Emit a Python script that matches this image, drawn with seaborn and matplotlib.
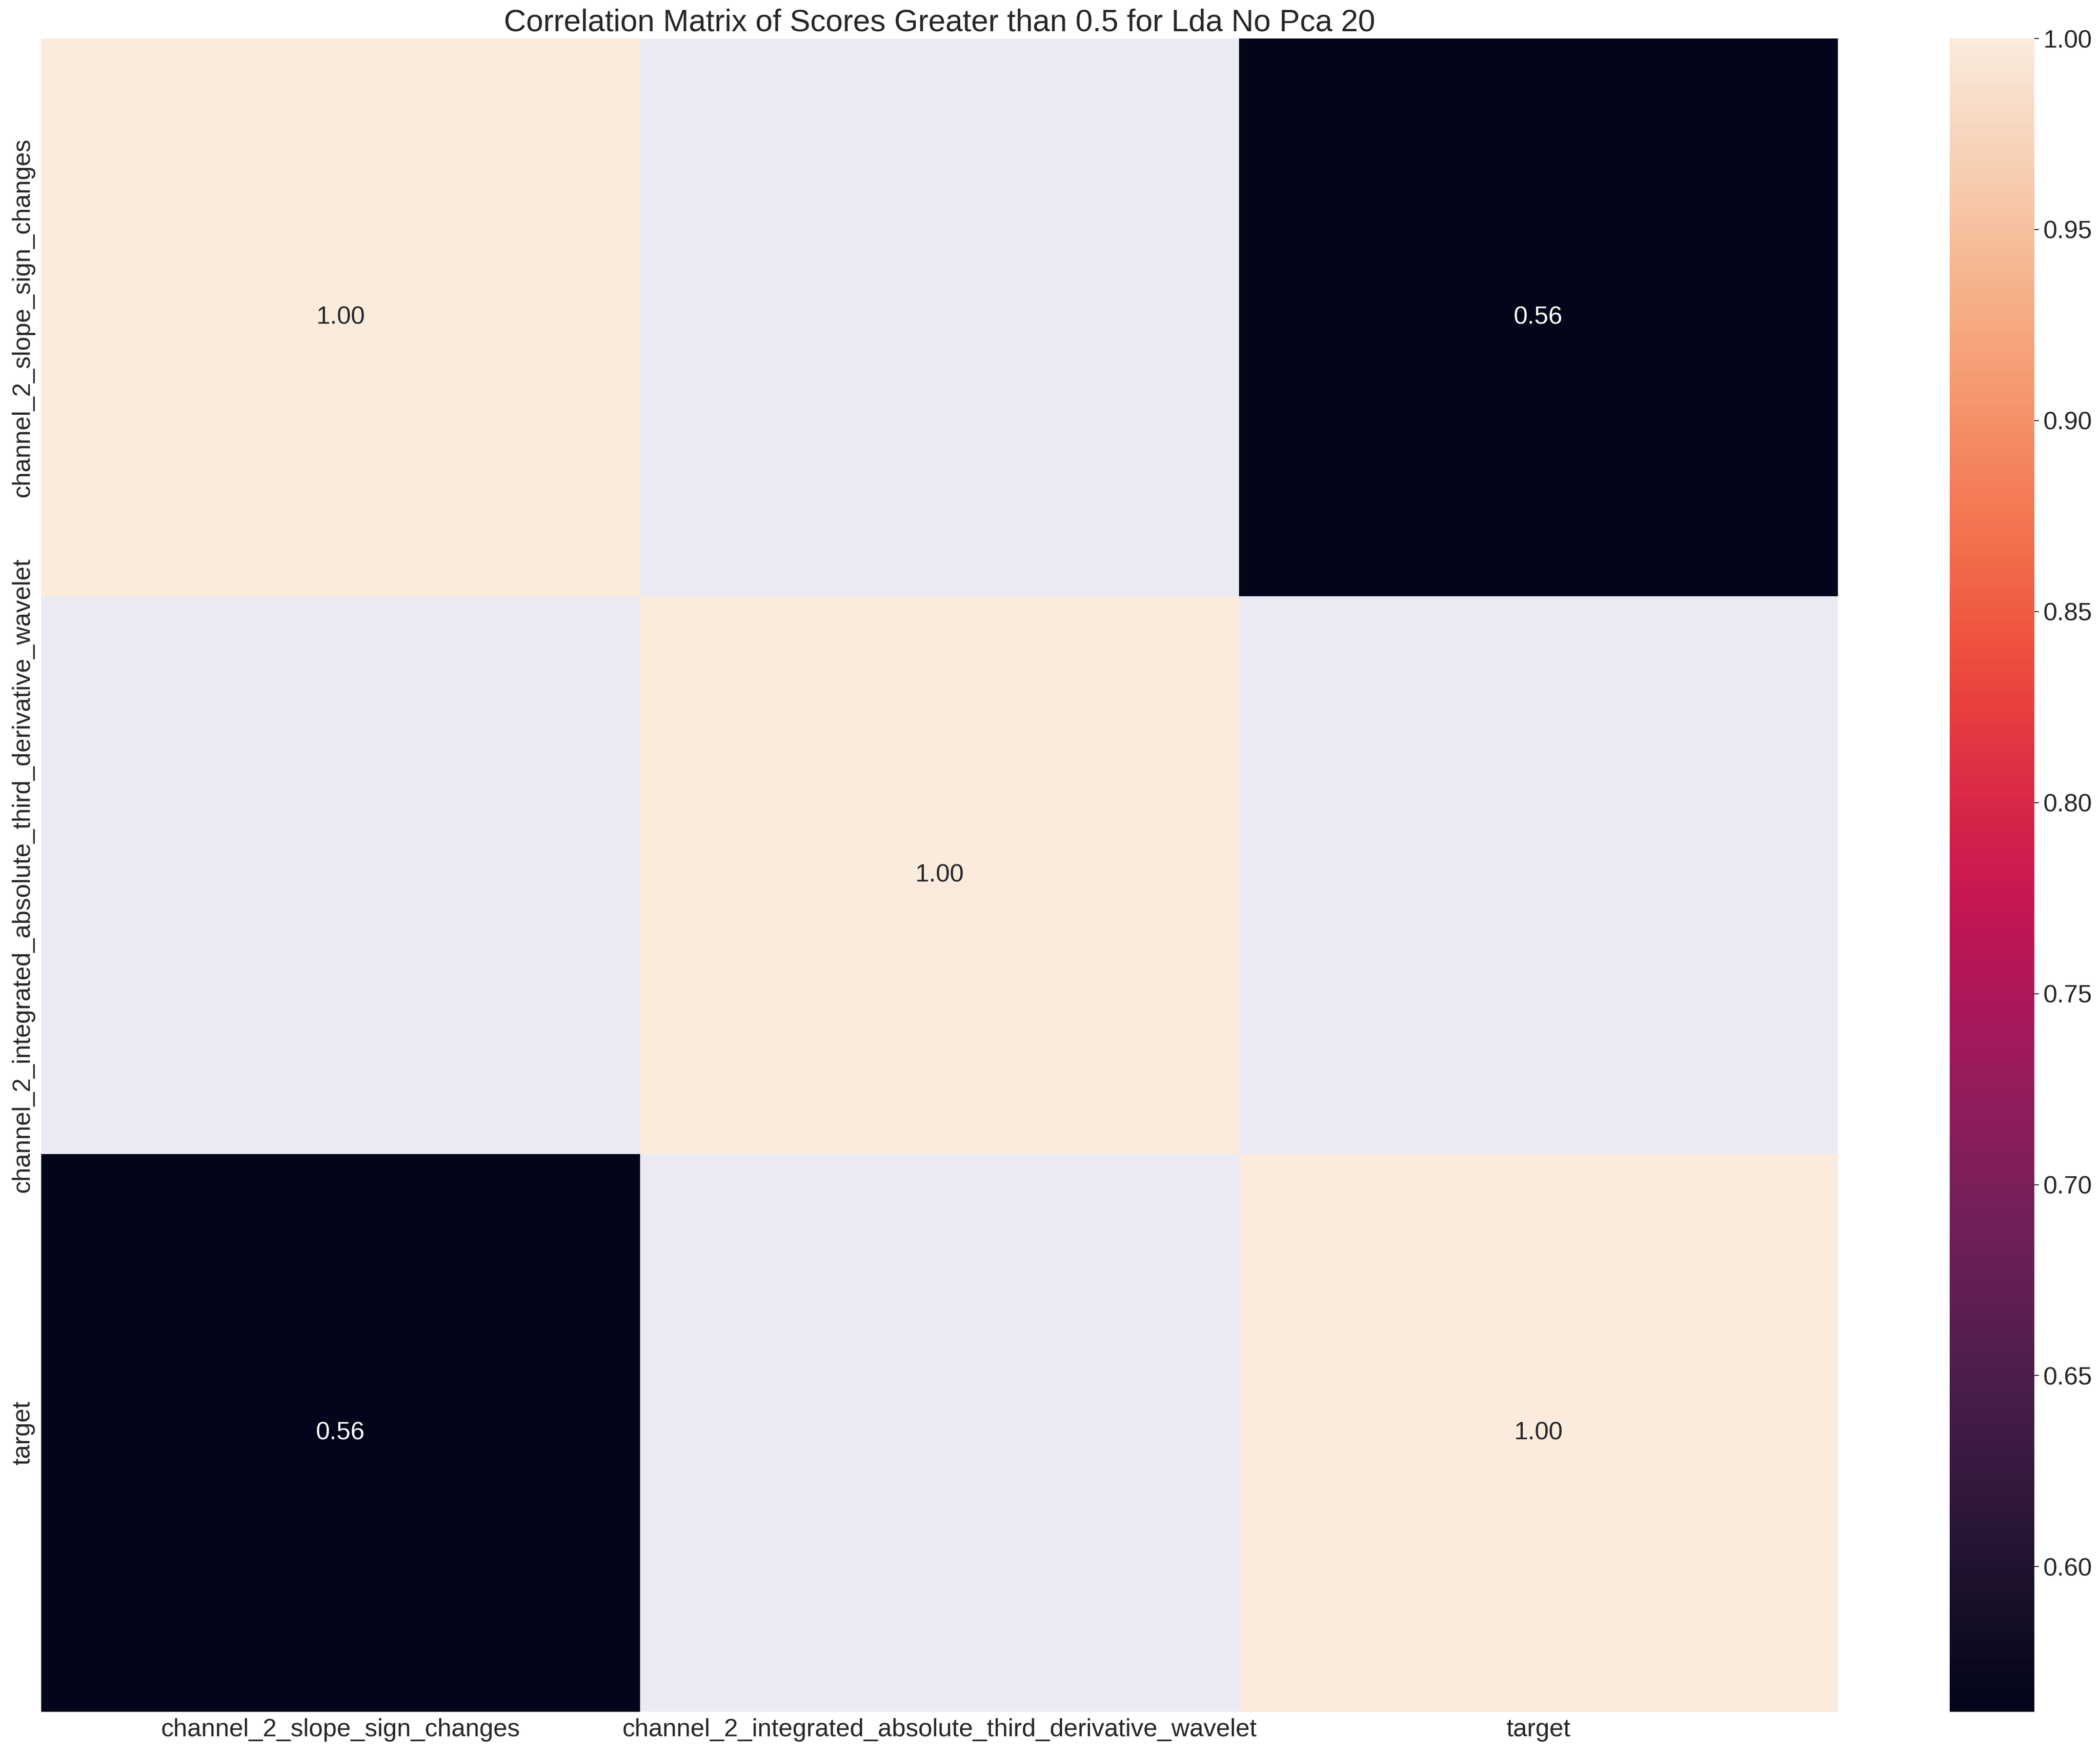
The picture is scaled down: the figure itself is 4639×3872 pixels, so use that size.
import numpy as np
import pandas as pd
import matplotlib
matplotlib.use("Agg")
import matplotlib.pyplot as plt
import seaborn as sns

# feature names and the |r| > 0.5 correlations (NaN = filtered out)
features = [
    "channel_2_slope_sign_changes",
    "channel_2_integrated_absolute_third_derivative_wavelet",
    "target",
]
row_slope = [1.00, np.nan, 0.562]
row_wavelet = [np.nan, 1.00, np.nan]
row_target = [0.562, np.nan, 1.00]

title = "Correlation Matrix of Scores Greater than 0.5 for Lda No Pca 20"

sns.set_theme(style="darkgrid")
plt.rcParams["font.family"] = ["Liberation Sans", "DejaVu Sans"]
plt.rcParams["text.color"] = "#262626"
plt.rcParams["xtick.color"] = "#262626"
plt.rcParams["ytick.color"] = "#262626"

corr = pd.DataFrame([row_slope, row_wavelet, row_target], index=features, columns=features)

W, H, DPI = 4639, 3872, 200
fig = plt.figure(figsize=(W / DPI, H / DPI), dpi=DPI)
ax = fig.add_axes([91 / W, 1 - 3781 / H, 3969 / W, 3696 / H])
cax = fig.add_axes([4307 / W, 1 - 3781 / H, 187 / W, 3696 / H])

sns.heatmap(corr, annot=True, fmt=".2f", ax=ax, cbar_ax=cax,
            annot_kws={"fontsize": 20})
ax.grid(False)
ax.set_title(title, fontsize=24.5, pad=6)
ax.tick_params(axis="both", labelsize=20, length=0, pad=5)
ax.set_xticklabels(features, rotation=0)
ax.set_yticklabels(features, rotation=90, va="center")

cax.tick_params(labelsize=20, length=3.5, width=0.8, color="#262626")
cax.yaxis.set_major_formatter(matplotlib.ticker.FormatStrFormatter("%.2f"))

fig.savefig("out.png", dpi=DPI)
